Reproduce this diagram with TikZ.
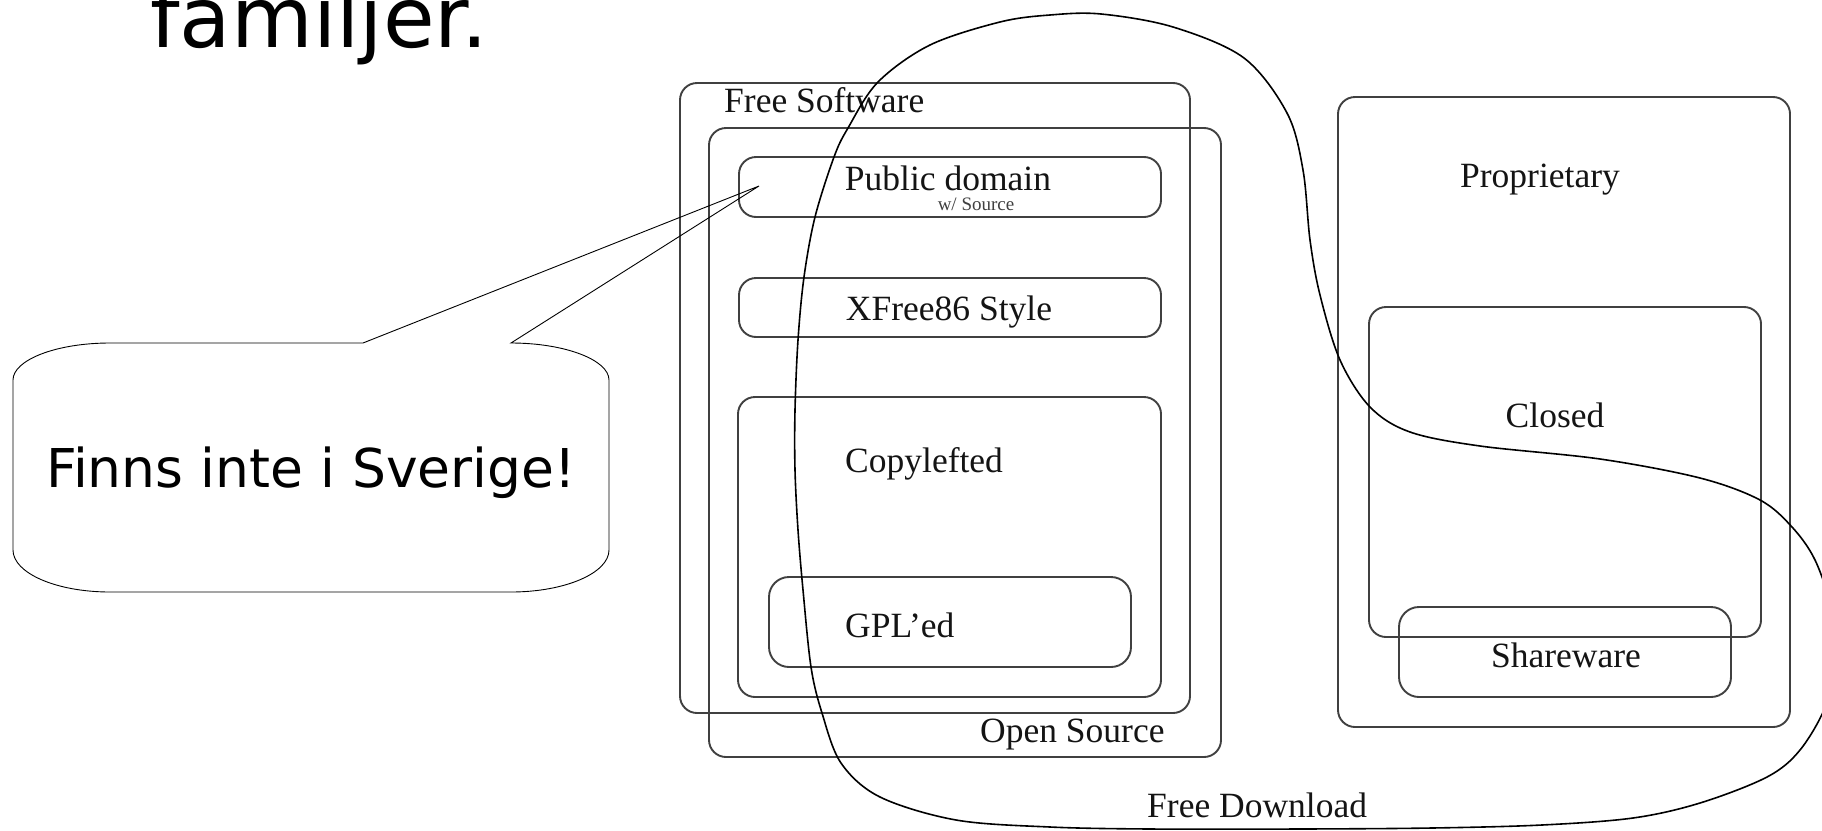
\documentclass[tikz,border=0pt]{standalone}
\usepackage{fontspec}
\setmainfont{Liberation Serif}
\newfontfamily\dejavu{DejaVu Sans}
\usetikzlibrary{fit}
\begin{document}
\begin{tikzpicture}[x=1pt,y=-1pt,
  box/.style={draw=black!75, line width=1.9pt, rounded corners=17pt, inner sep=0pt},
  lbl/.style={inner sep=0pt, text=black!92, font=\fontsize{35.5}{40}\selectfont},
  small/.style={inner sep=0pt, text=black!75, font=\fontsize{19}{22}\selectfont},
  fdcurve/.style={draw=black, line width=1.6pt},
  callout/.style={draw=black, line width=0.9pt}]
\useasboundingbox (0,0) rectangle (1822,830);
% title
\node[anchor=base west, inner sep=0pt] (title) at (150,47)
  {\dejavu\fontsize{84}{90}\selectfont familjer.};
% boxes
\node[box, fit={(680,83) (1190,713)}] (fs) {};
\node[box, fit={(709,128) (1221,757)}] (os) {};
\node[box, fit={(739,157) (1161,217)}] (pd) {};
\node[box, fit={(739,278) (1161,337)}] (xf) {};
\node[box, fit={(738,397) (1161,697)}] (cp) {};
\node[box, rounded corners=20pt, fit={(769,577) (1131,667)}] (gpl) {};
\node[box, fit={(1338,97) (1790,727)}] (pr) {};
\node[box, fit={(1369,307) (1761,637)}] (cl) {};
\node[box, rounded corners=20pt, fit={(1399,607) (1731,697)}] (sw) {};
% labels
\node[lbl, anchor=base west] (fsl) at (724,112) {Free Software};
\node[lbl, anchor=base] (pdl) at (948,190) {Public domain};
\node[small, anchor=base] (pds) at (976,210) {w/ Source};
\node[lbl, anchor=base] (xfl) at (949,320) {XFree86 Style};
\node[lbl, anchor=base west] (cpl) at (845,472) {Copylefted};
\node[lbl, anchor=base west] (gpll) at (845,637) {GPL’ed};
\node[lbl, anchor=base west] (osl) at (980,742) {Open Source};
\node[lbl, anchor=base west] (fdl) at (1147,817) {Free Download};
\node[lbl, anchor=base] (prl) at (1540,187) {Proprietary};
\node[lbl, anchor=base] (cll) at (1555,427) {Closed};
\node[lbl, anchor=base] (swl) at (1566,667) {Shareware};
% free download curve
\draw[fdcurve] plot[smooth cycle, tension=0.55] coordinates {
 (1101,14) (1173,27) (1244,58) (1287,113) (1303,170) (1310,240) (1320,295)
 (1340,360) (1370,407) (1410,432) (1480,446) (1600,459) (1700,478) (1760,500)
 (1792,527) (1815,560) (1832,610) (1836,655) (1826,705) (1800,750) (1767,777)
 (1700,803) (1633,818) (1542,825) (1432,828) (1300,829) (1150,829) (1050,827)
 (956,820) (880,797) (841,763) (822,713) (811,667) (803,590) (798,530)
 (795,470) (795,410) (798,340) (804,277) (815,217) (834,157) (848,128)
 (878,82) (930,45) (1000,22) (1050,15)};
% callout
\coordinate (tip) at (759,186);
\draw[callout] (363,343) -- (tip) -- (511,343)
  .. controls (565,343) and (609,360) .. (609,380) -- (609,550)
  .. controls (609,573) and (565,592) .. (511,592) -- (110,592)
  .. controls (56,592) and (13,573) .. (13,550) -- (13,380)
  .. controls (13,360) and (56,343) .. (110,343) -- cycle;
\node[inner sep=0pt, anchor=base] (ctext) at (311,487)
  {\dejavu\fontsize{53.5}{60}\selectfont Finns inte i Sverige!};
\end{tikzpicture}
\end{document}
